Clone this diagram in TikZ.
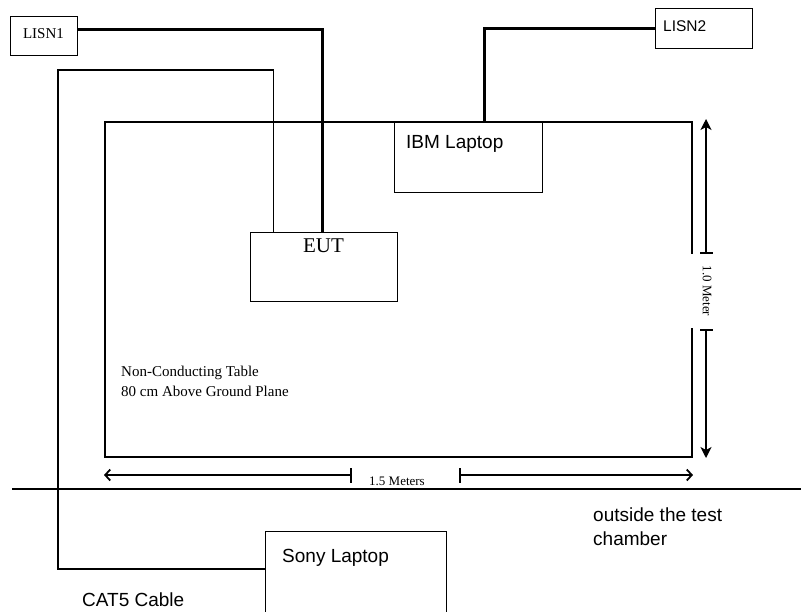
\documentclass[tikz,border=0pt]{standalone}
\usepackage{fontspec}
\setmainfont{Liberation Serif}
\newfontfamily\sansf{Liberation Sans}
\usetikzlibrary{arrows.meta}
\begin{document}
\begin{tikzpicture}[x=1pt,y=-1pt,
  box/.style={draw,line width=1.2pt,rectangle,inner sep=0pt,anchor=north west},
  thincable/.style={line width=1.2pt},
  thickcable/.style={line width=3pt},
  dimline/.style={line width=1.2pt},
  vtip/.style={-{Stealth[length=11pt,width=11pt,inset=3pt]}},
  htip/.style={-{Straight Barb[length=5pt,width=11pt,line width=1.8pt]}},
  txt/.style={inner sep=0pt,anchor=base west},
  sans19/.style={font=\sansf\fontsize{19}{23.5}\selectfont},
  sans15/.style={font=\sansf\fontsize{15.5}{18}\selectfont},
  serif15/.style={font=\fontsize{15}{20}\selectfont},
  serif21/.style={font=\fontsize{21}{24}\selectfont},
  serif13/.style={font=\fontsize{13}{15}\selectfont}]
\useasboundingbox (0,0) rectangle (801,611);
\clip (0,0) rectangle (801,611);

% table (right edge interrupted by the label)
\draw[line width=1.2pt] (692,328) -- (692,457) -- (105,457) -- (105,122) -- (692,122) -- (692,254);

% boxes
\node[box,minimum width=67pt,minimum height=39pt] (lisn1) at (10,16) {};
\node[box,minimum width=97pt,minimum height=40pt] (lisn2) at (655,8) {};
\node[box,minimum width=148pt,minimum height=70pt,fill=white] (ibm) at (394,122) {};
\node[box,minimum width=147pt,minimum height=69pt] (eut) at (250,232) {};
\node[box,minimum width=181pt,minimum height=100pt] (sony) at (265,531) {};

% box texts
\node[txt,serif15,anchor=base] (lisn1t) at (43.5,38.5) {LISN1};
\node[txt,sans15] (lisn2t) at (663,31) {LISN2};
\node[txt,sans19] (ibmt) at (406,148) {IBM Laptop};
\node[txt,serif21,anchor=base] (eutt) at (323.5,252) {EUT};
\node[txt,sans19] (sonyt) at (282,562) {Sony Laptop};

% cables
\draw[thickcable] ([yshift=6.5pt]lisn1.east) -| ([xshift=-1.5pt]eut.north);
\draw[thickcable] (lisn2.west) -| ([xshift=16pt]ibm.north);
\draw[thincable] ([xshift=-50.5pt]eut.north) |- (58,70) |- ([yshift=-38pt]sony.north west);

% dimension 1.0 Meter
\draw[dimline,vtip] (706,253) -- (706,119);
\draw[dimline,vtip] (706,330) -- (706,458);
\draw[dimline] (700,253) -- (713,253);
\draw[dimline] (700,330) -- (713,330);
\node[serif13,inner sep=0pt,rotate=-90] (dimv) at (707,291) {1.0 Meter};

% dimension 1.5 Meters
\draw[dimline,htip] (351,475) -- (104,475);
\draw[dimline,htip] (460,475) -- (693,475);
\draw[dimline] (351,468) -- (351,483);
\draw[dimline] (460,468) -- (460,483);
\node[serif13,inner sep=0pt,anchor=base] (dimh) at (397,485) {1.5 Meters};

% table label
\node[txt,serif15,align=left] (tablet) at (121,396) {Non-Conducting Table\\80 cm Above Ground Plane};

% chamber boundary
\draw[line width=1.2pt] (12,489) -- (801,489);
\node[txt,sans19,align=left] (outt) at (593,545) {outside the test\\chamber};
\node[txt,sans19] (cat5) at (82,606) {CAT5 Cable};
\end{tikzpicture}
\end{document}
